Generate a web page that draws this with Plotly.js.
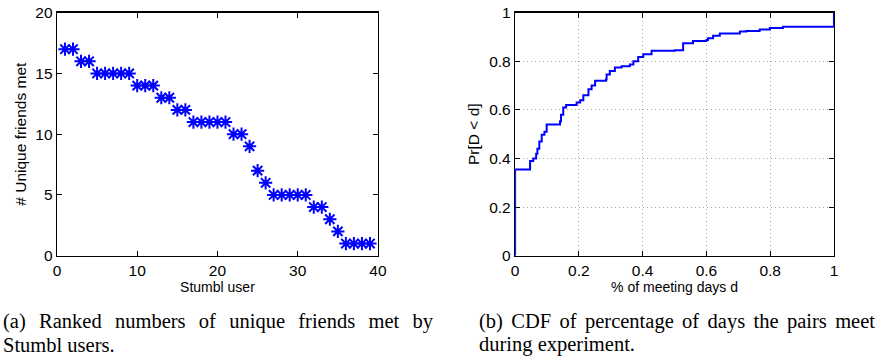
<!DOCTYPE html>
<html><head><meta charset="utf-8">
<script src="https://cdn.plot.ly/plotly-3.0.1.min.js"></script>
<style>html,body{margin:0;padding:0;background:#fff}#plot{width:876px;height:358px}</style>
</head><body><div id="plot"></div>
<script>
const userRank = [1,2,3,4,5,6,7,8,9,10,11,12,13,14,15,16,17,18,19,20,21,22,23,24,25,26,27,28,29,30,31,32,33,34,35,36,37,38,39];
const uniqueFriends = [17,17,16,16,15,15,15,15,15,14,14,14,13,13,12,12,11,11,11,11,11,10,10,9,7,6,5,5,5,5,5,4,4,3,2,1,1,1,1];

const cdfX = [0,0,0.047,0.057,0.066,0.070,0.076,0.0835,0.092,0.099,0.141,0.144,0.151,0.160,0.193,0.204,0.214,0.230,0.240,0.251,0.285,0.287,0.297,0.313,0.334,0.360,0.371,0.386,0.402,0.428,0.501,0.527,0.558,0.600,0.605,0.621,0.642,0.705,0.725,0.767,0.799,0.840,1.0,1.0];
const cdfY = [0,0.355,0.39,0.40,0.42,0.44,0.47,0.498,0.51,0.54,0.553,0.58,0.61,0.62,0.63,0.64,0.66,0.685,0.70,0.72,0.725,0.746,0.76,0.774,0.78,0.787,0.80,0.818,0.829,0.843,0.846,0.874,0.884,0.888,0.895,0.905,0.914,0.923,0.925,0.931,0.937,0.942,0.946,1.0];

const leftTicks = [0,5,10,15,20];
const bottomTicks = [0,10,20,30,40];
const cdfTicks = [0,0.2,0.4,0.6,0.8,1];
const cdfTickText = ['0','0.2','0.4','0.6','0.8','1'];

const captionA1 = '(a) Ranked numbers of unique friends met by';
const captionA2 = 'Stumbl users.';
const captionB1 = '(b) CDF of percentage of days the pairs meet';
const captionB2 = 'during experiment.';

const blue = 'rgb(0,0,255)';
const tickFont = {family:'Liberation Sans, Arial, sans-serif', size:15.5, color:'#000'};
const xTitleFont = {family:'Liberation Sans, Arial, sans-serif', size:14, color:'#000'};
const yTitleFont = {family:'Liberation Sans, Arial, sans-serif', size:15.5, color:'#000'};
const capFont = {family:'Liberation Serif, Times New Roman, serif', size:20.5, color:'#000'};

const traces = [
  {x:userRank, y:uniqueFriends, type:'scatter', mode:'markers', xaxis:'x', yaxis:'y',
   marker:{symbol:'asterisk-open', size:11, color:blue, line:{color:blue, width:2}}, showlegend:false},
  {x:cdfX, y:cdfY, type:'scatter', mode:'lines', xaxis:'x2', yaxis:'y2',
   line:{color:blue, width:2, shape:'hv'}, showlegend:false}
];

const axBase = {showline:true, mirror:'ticks', linecolor:'#000', linewidth:1.3, ticks:'inside', ticklen:5,
  tickcolor:'#000', zeroline:false, tickfont:tickFont, showgrid:false};

function cap(text, x, ybase){
  return {text:text, xref:'paper', yref:'paper', x:x, y:1-ybase/358, xanchor:'left', yanchor:'bottom',
    align:'left', showarrow:false, font:capFont, borderpad:0};
}

const layout = {
  width:876, height:358, margin:{l:0,r:0,t:0,b:0}, paper_bgcolor:'#fff', plot_bgcolor:'#fff',
  font:{family:'Liberation Sans, Arial, sans-serif', color:'#000'},
  xaxis:Object.assign({}, axBase, {domain:[0.065,0.4315], range:[0,40], tickvals:bottomTicks, anchor:'y',
    title:{text:'Stumbl user', font:xTitleFont, standoff:2}}),
  yaxis:Object.assign({}, axBase, {domain:[0.2858,0.9645], range:[0,20], tickvals:leftTicks, anchor:'x',
    title:{text:'# Unique friends met', font:yTitleFont, standoff:5}}),
  xaxis2:Object.assign({}, axBase, {domain:[0.588,0.952], range:[0,1], tickvals:cdfTicks, ticktext:cdfTickText, anchor:'y2',
    showgrid:true, gridcolor:'#a8a8a8', griddash:'1px,3px', gridwidth:1,
    title:{text:'% of meeting days d', font:xTitleFont, standoff:2}}),
  yaxis2:Object.assign({}, axBase, {domain:[0.2858,0.9645], range:[0,1], tickvals:cdfTicks, ticktext:cdfTickText, anchor:'x2',
    showgrid:true, gridcolor:'#a8a8a8', griddash:'1px,3px', gridwidth:1,
    title:{text:'Pr[D < d]', font:yTitleFont, standoff:5}}),
  annotations:[
    cap(captionA1, 2/876, 334),
    cap(captionA2, 2/876, 357),
    cap(captionB1, 478/876, 334),
    cap(captionB2, 478/876, 357)
  ]
};

// justify the first caption lines to the column widths seen in the reference
const justifyWidths = {0:430, 2:396};
Plotly.newPlot('plot', traces, layout, {displayModeBar:false, staticPlot:true}).then(function(gd){
  const texts = gd.querySelectorAll('.annotation-text');
  Object.keys(justifyWidths).forEach(function(k){
    const t = texts[+k]; if(!t) return;
    const w = t.getComputedTextLength();
    const spaces = (t.textContent.match(/ /g)||[]).length;
    const extra = (justifyWidths[k]-w)/spaces;
    if (extra > 0) t.style.wordSpacing = extra + 'px';
  });
});
</script></body></html>
